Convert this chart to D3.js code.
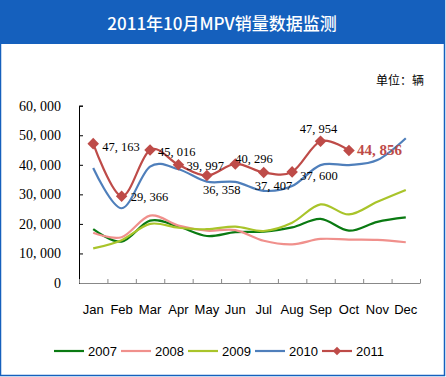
<!DOCTYPE html>
<html>
<head>
<meta charset="utf-8">
<script src="https://cdn.jsdelivr.net/npm/d3@7"></script>
<style>
  body { margin: 0; background: #fff; }
  svg { display: block; }
</style>
</head>
<body>
<div id="chart-area"></div>
<script>
// data
const months = ['Jan', 'Feb', 'Mar', 'Apr', 'May', 'Jun', 'Jul', 'Aug', 'Sep', 'Oct', 'Nov', 'Dec'];
const years = ['2007', '2008', '2009', '2010', '2011'];
const sales2007 = [18200, 14000, 21100, 19100, 15900, 17200, 17400, 18800, 21700, 17700, 20700, 22200];
const sales2008 = [17000, 15500, 22800, 19400, 17700, 17900, 14300, 13100, 14900, 14700, 14600, 13800];
const sales2009 = [11700, 14500, 20000, 18700, 18200, 19100, 17600, 20400, 26600, 23200, 27500, 31500];
const sales2010 = [38900, 25300, 39400, 38500, 34300, 34200, 31200, 32800, 39900, 39900, 41600, 49000];
const sales2011 = [47163, 29366, 45016, 39997, 36358, 40296, 37407, 37600, 47954, 44856];
const yTicks = [0, 10000, 20000, 30000, 40000, 50000, 60000];

const colors = ['#0a7a12', '#f0908c', '#a9c42a', '#4f7fbb', '#be4b48'];
const allSeries = [sales2007, sales2008, sales2009, sales2010, sales2011];

// label offsets for 2011 points [dx, dy, anchor]
const labelPos = [
  [9, 3, 'start'], [9, 1, 'start'], [8, 2, 'start'], [8, 1, 'start'],
  [-4, 14, 'start'], [0, -5, 'start'], [-9, 14, 'start'], [8, 4, 'start'],
  [-2, -12, 'middle'], [8, 1, 'start']
];

const W = 446, H = 377;
const svg = d3.select('#chart-area').append('svg')
  .attr('width', W)
  .attr('height', H);

// frame + title bar
svg.append('rect')
  .attr('x', 0.5).attr('y', 0.5)
  .attr('width', 444).attr('height', 375)
  .attr('fill', '#fff')
  .attr('stroke', '#1560bd')
  .attr('stroke-width', 1.5);

svg.append('rect')
  .attr('x', 0).attr('y', 0)
  .attr('width', 445).attr('height', 44)
  .attr('fill', '#1560bd');

svg.append('text')
  .attr('x', 222).attr('y', 30)
  .attr('text-anchor', 'middle')
  .attr('font-family', '"Noto Sans CJK SC", sans-serif')
  .attr('font-size', '17px')
  .attr('font-weight', '500')
  .attr('fill', '#fff')
  .text('2011年10月MPV销量数据监测');

svg.append('text')
  .attr('x', 424).attr('y', 85)
  .attr('text-anchor', 'end')
  .attr('font-family', '"Noto Sans CJK SC", sans-serif')
  .attr('font-size', '12px')
  .attr('fill', '#000')
  .text('单位：辆');

// scales
const x = d3.scaleBand()
  .domain(months)
  .range([79, 420]);

const y = d3.scaleLinear()
  .domain([0, 60000])
  .range([283, 105.7]);

const fmt = (d) => d3.format(',')(d).replace(',', ', ');

// y axis
const yAxis = svg.append('g')
  .attr('transform', 'translate(79,0)')
  .call(d3.axisRight(y).tickValues(yTicks).tickSize(4).tickFormat(''));
yAxis.select('.domain').attr('stroke', '#000');
yAxis.selectAll('.tick line').attr('stroke', '#000');

svg.append('g').selectAll('text')
  .data(yTicks)
  .enter().append('text')
  .attr('x', 61)
  .attr('y', (d) => y(d) + 5)
  .attr('text-anchor', 'end')
  .attr('font-family', '"Liberation Serif", serif')
  .attr('font-size', '14px')
  .text(fmt);

// x axis, ticks inside
const xAxis = svg.append('g')
  .attr('transform', 'translate(0,283)')
  .call(d3.axisTop(d3.scaleLinear().domain([0, 12]).range([79, 420]))
    .ticks(12).tickSize(4).tickFormat('').tickSizeOuter(0));
xAxis.select('.domain').attr('stroke', '#888');
xAxis.selectAll('.tick line').attr('stroke', '#888');

svg.append('g').selectAll('text')
  .data(months)
  .enter().append('text')
  .attr('x', (d) => x(d) + x.bandwidth() / 2)
  .attr('y', 314)
  .attr('text-anchor', 'middle')
  .attr('font-family', '"Liberation Sans", Arial, sans-serif')
  .attr('font-size', '13px')
  .text((d) => d);

// lines
const line = d3.line()
  .x((d, i) => x(months[i]) + x.bandwidth() / 2)
  .y((d) => y(d))
  .curve(d3.curveCardinal.tension(0));

allSeries.forEach((s, k) => {
  svg.append('path')
    .datum(s)
    .attr('fill', 'none')
    .attr('stroke', colors[k])
    .attr('stroke-width', 2.2)
    .attr('d', line);
});

// 2011 markers
const diamond = d3.symbol().type(d3.symbolDiamond2).size(85);
svg.append('g').selectAll('path')
  .data(sales2011)
  .enter().append('path')
  .attr('d', diamond)
  .attr('transform', (d, i) => 'translate(' + (x(months[i]) + x.bandwidth() / 2) + ',' + y(d) + ')')
  .attr('fill', colors[4]);

// 2011 labels
svg.append('g').selectAll('text')
  .data(sales2011)
  .enter().append('text')
  .attr('x', (d, i) => x(months[i]) + x.bandwidth() / 2 + labelPos[i][0])
  .attr('y', (d, i) => y(d) + labelPos[i][1] + 4)
  .attr('text-anchor', (d, i) => labelPos[i][2])
  .attr('font-family', '"Liberation Serif", serif')
  .attr('font-size', (d, i) => i === 9 ? '15px' : '12.5px')
  .attr('font-weight', (d, i) => i === 9 ? 'bold' : 'normal')
  .attr('fill', (d, i) => i === 9 ? colors[4] : '#000')
  .text(fmt);

// legend
const legend = svg.append('g').selectAll('g')
  .data(years)
  .enter().append('g')
  .attr('transform', (d, i) => 'translate(' + (54 + i * 67) + ',351)');

legend.append('line')
  .attr('x1', 0).attr('x2', 30)
  .attr('y1', 0).attr('y2', 0)
  .attr('stroke', (d, i) => colors[i])
  .attr('stroke-width', 2.2);

legend.filter((d, i) => i === 4).append('path')
  .attr('d', d3.symbol().type(d3.symbolDiamond2).size(45))
  .attr('transform', 'translate(15,0)')
  .attr('fill', colors[4]);

legend.append('text')
  .attr('x', 34)
  .attr('y', 5)
  .attr('font-family', '"Liberation Sans", Arial, sans-serif')
  .attr('font-size', '13px')
  .text((d) => d);
</script>
</body>
</html>
